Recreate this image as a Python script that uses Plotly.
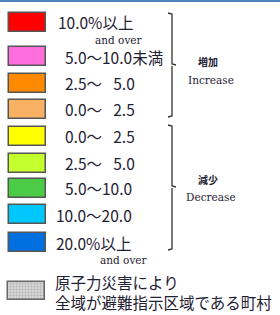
import plotly.graph_objects as go

# ---- data ----
labels = ["10.0%以上", "5.0～10.0未満", "2.5～\u2002 5.0", "0.0～\u2002 2.5",
          "0.0～\u2002 2.5", "2.5～\u2002 5.0", "5.0～10.0", "10.0～20.0", "20.0%以上"]
colors = ["#FF0000", "#FF6EDC", "#FF8A00", "#F8B062",
          "#FFFF00", "#C4FF2E", "#4CCB46", "#00C8FF", "#0070E0"]
groups = ["増加", "減少"]
groups_en = ["Increase", "Decrease"]
note_label = ["原子力災害により", "全域が避難指示区域である町村"]
and_over = "and over"

# ---- layout constants (pixel space) ----
W, H = 280, 315
row_y = [22, 56.5, 83, 109, 136, 163, 188, 214.5, 242.5]
text_x = [56, 63, 63, 63, 63, 63, 63, 54, 54]
sw_x0, sw_w, sw_h = 9, 37, 19
txt_col = "#1F2233"
main_font = "Noto Sans CJK JP"

fig = go.Figure()
fig.add_trace(go.Bar(
    y=row_y, x=[sw_w] * len(labels), base=sw_x0, orientation="h",
    width=sw_h, marker=dict(color=colors, line=dict(color="#555555", width=1.5)),
    hoverinfo="skip", showlegend=False))
# hatched swatch
fig.add_trace(go.Bar(
    y=[291], x=[sw_w], base=sw_x0 - 1, orientation="h", width=18,
    marker=dict(color="#C8C8C8", line=dict(color="#666666", width=1.5),
                pattern=dict(shape=".", fgcolor="#8A8A8A", bgcolor="#D8D8D8", size=3, solidity=0.4)),
    hoverinfo="skip", showlegend=False))

ann = []
for lab, y, x in zip(labels, row_y, text_x):
    ann.append(dict(x=x, y=y, text=lab, xanchor="left", yanchor="middle", showarrow=False,
                    font=dict(family=main_font, size=15.5, color=txt_col)))
for x, y in [(93, 40), (98, 260)]:
    ann.append(dict(x=x, y=y, text=and_over, xanchor="left", yanchor="middle", showarrow=False,
                    font=dict(family="DejaVu Serif", size=10.5, color=txt_col)))
for g, ge, yg, ye in zip(groups, groups_en, [61, 179], [80, 197]):
    ann.append(dict(x=208, y=yg, text="<b>%s</b>" % g, xanchor="center", yanchor="middle", showarrow=False,
                    font=dict(family=main_font, size=10, color=txt_col)))
    ann.append(dict(x=211, y=ye, text=ge, xanchor="center", yanchor="middle", showarrow=False,
                    font=dict(family="DejaVu Serif", size=10.5, color=txt_col)))
for t, y in zip(note_label, [282, 302]):
    ann.append(dict(x=53, y=y, text=t, xanchor="left", yanchor="middle", showarrow=False,
                    font=dict(family=main_font, size=15.5, color=txt_col)))

shapes = [dict(type="line", x0=0, x1=W, y0=1, y1=1, line=dict(color="#4F81BD", width=2))]
for (y0, ym, y1) in [(13, 65, 117), (125, 187, 250)]:
    path = (f"M 168 {y0} L 172 {y0+1} L 172 {ym-1} L 176 {ym} "
            f"M 172 {ym+1} L 172 {y1-1} L 168 {y1}")
    shapes.append(dict(type="path", path=path, line=dict(color="#333333", width=1.3)))

fig.update_layout(
    width=W, height=H, margin=dict(l=0, r=0, t=0, b=0),
    paper_bgcolor="white", plot_bgcolor="white",
    xaxis=dict(range=[0, W], visible=False, fixedrange=True),
    yaxis=dict(range=[H, 0], visible=False, fixedrange=True),
    annotations=ann, shapes=shapes, bargap=0)
fig.write_html("out.html", config={"displayModeBar": False},
               post_script="document.body.style.margin='0';document.body.style.overflow='hidden';")
